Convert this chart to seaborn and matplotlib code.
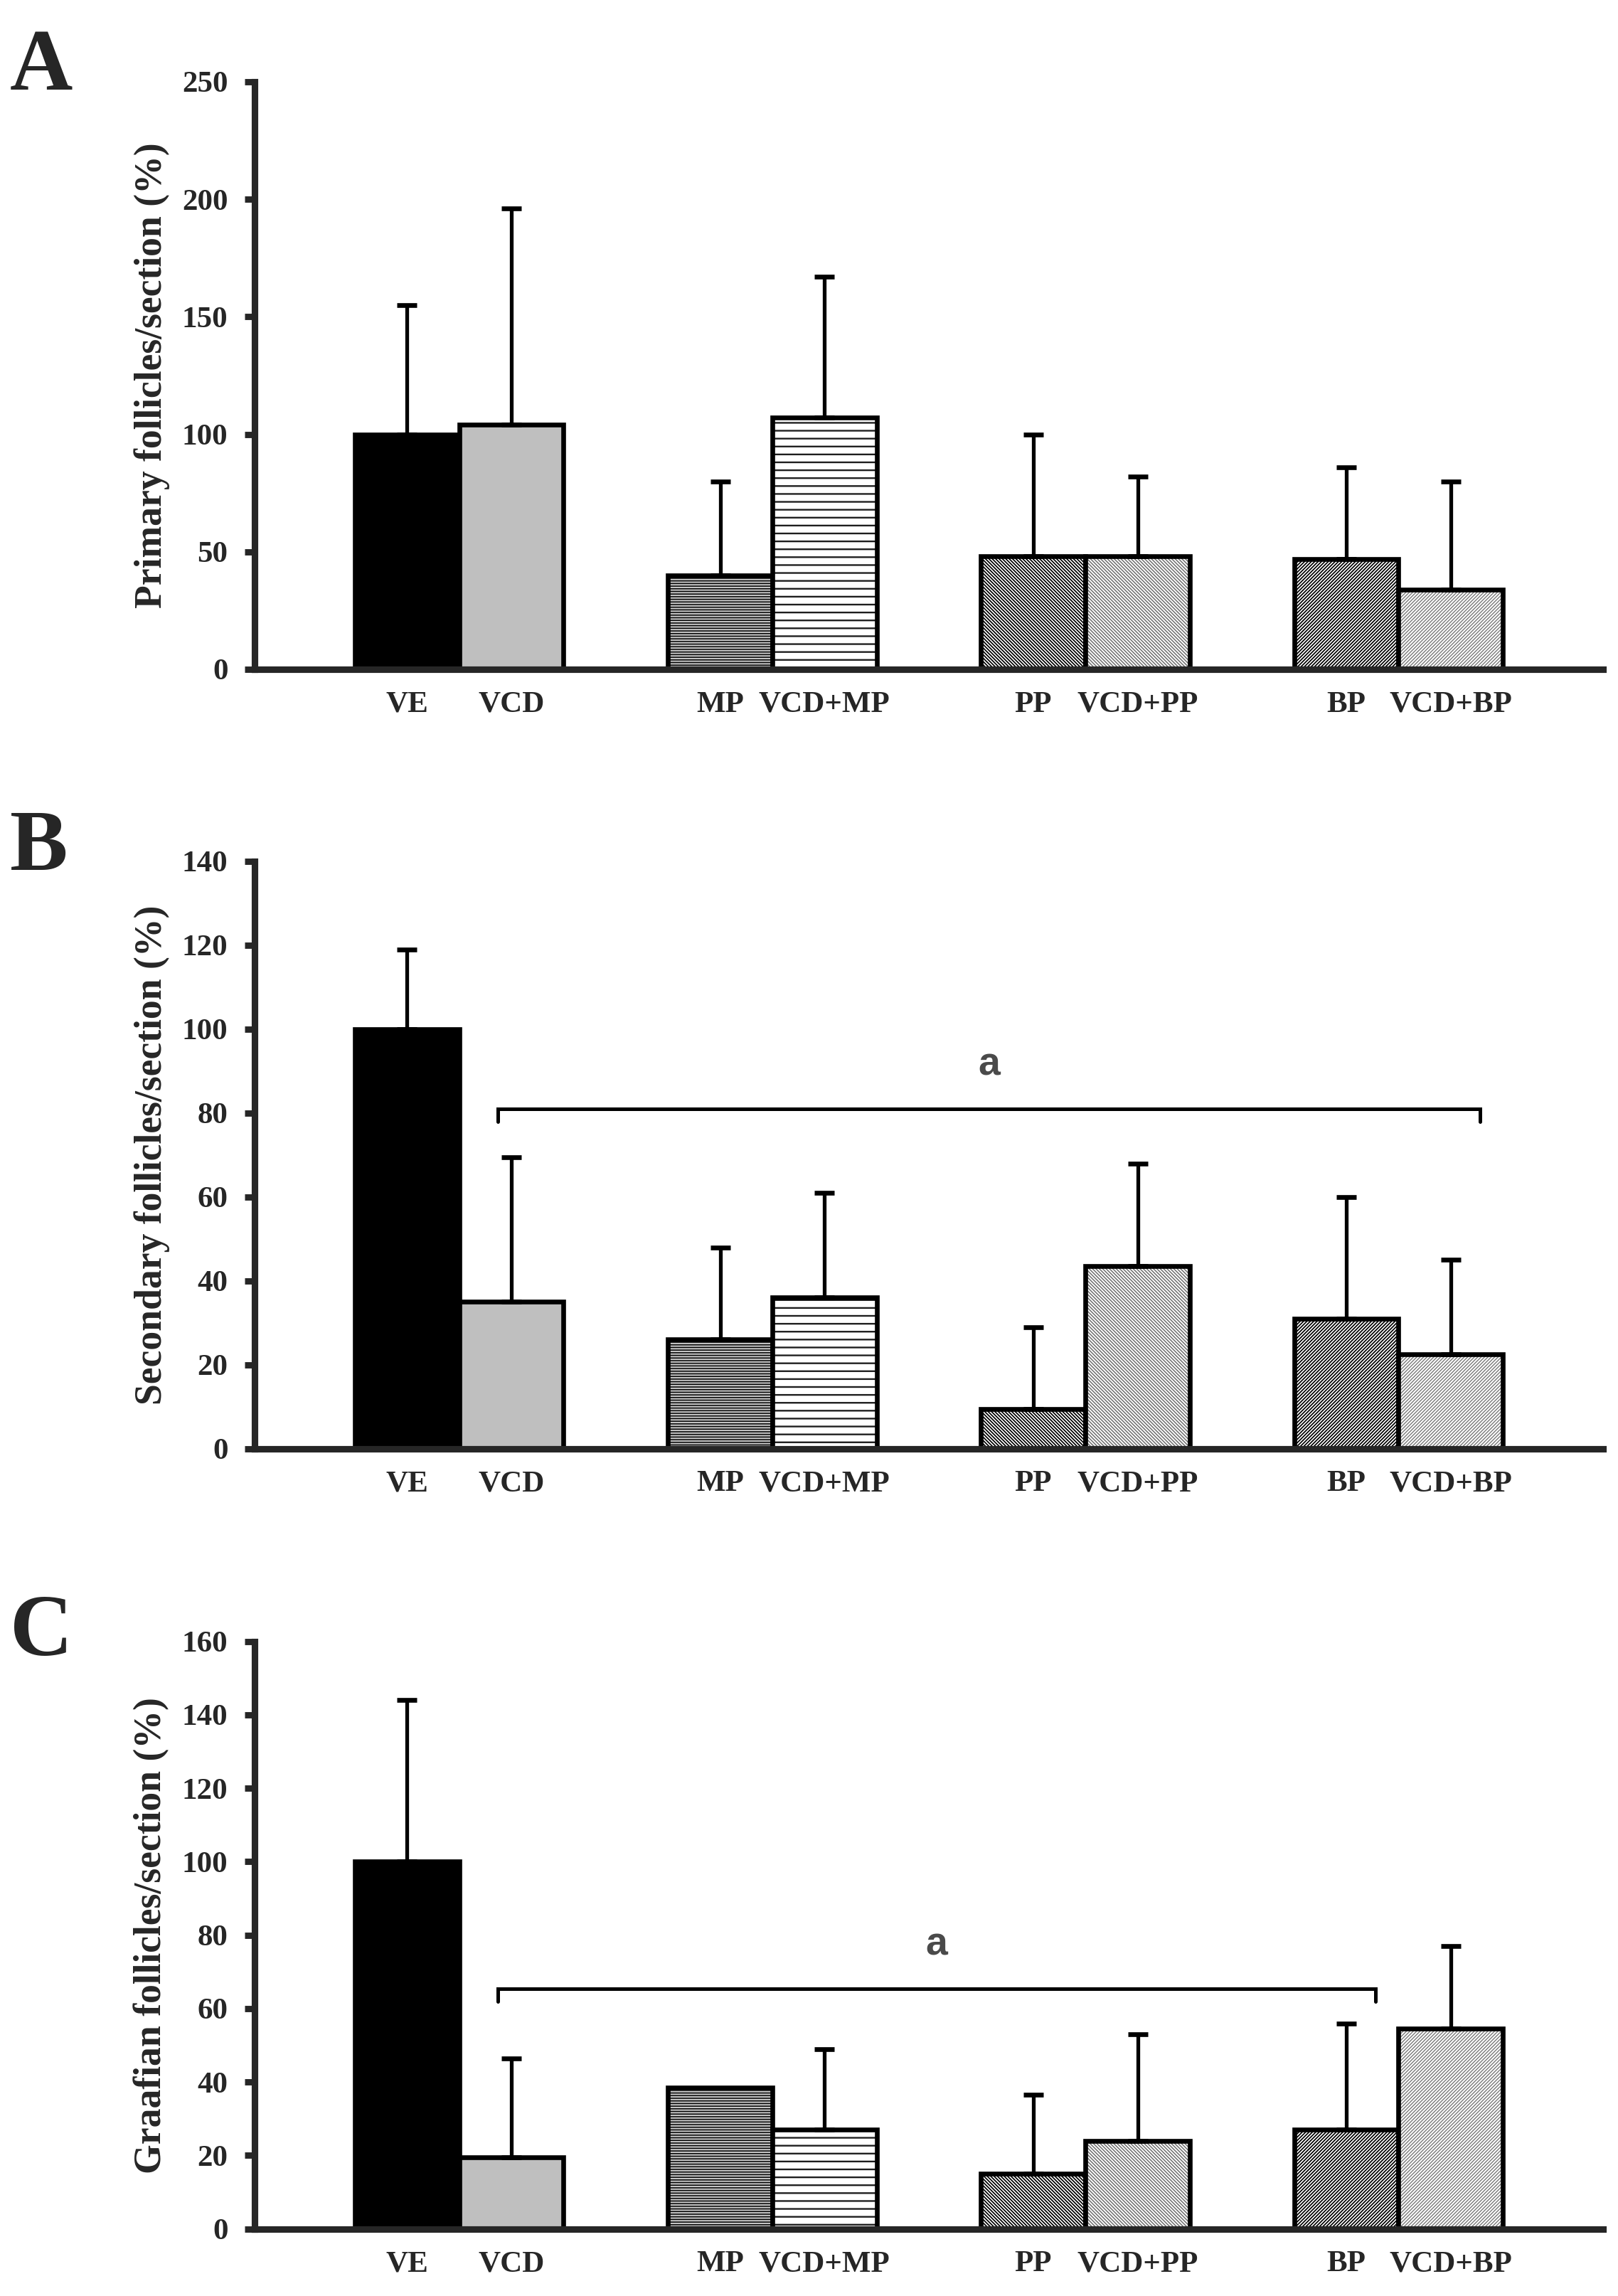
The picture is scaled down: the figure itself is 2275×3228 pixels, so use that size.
import numpy as np
import matplotlib
matplotlib.use('Agg')
import matplotlib.pyplot as plt
import seaborn as sns
import pandas as pd
from matplotlib.colors import to_rgba

sns.set_style('ticks')
plt.rcParams['font.family'] = ['Liberation Serif', 'DejaVu Serif']
plt.rcParams['font.weight'] = 'bold'
plt.rcParams['axes.labelweight'] = 'bold'

# data (% of vehicle control, mean + SD)
groups = ['VE', 'VCD', 'MP', 'VCD+MP', 'PP', 'VCD+PP', 'BP', 'VCD+BP']
order = ['VE', 'VCD', ' ', 'MP', 'VCD+MP', '  ', 'PP', 'VCD+PP', '   ', 'BP', 'VCD+BP']

primary_mean = [100, 104, 40, 107, 48, 48, 47, 34]
primary_sd = [55, 92, 40, 60, 52, 34, 39, 46]

secondary_mean = [100, 35, 26, 36, 9.5, 43.5, 31, 22.5]
secondary_sd = [19, 34.5, 22, 25, 19.5, 24.5, 29, 22.5]

graafian_mean = [100, 19.5, 38.5, 27, 15, 24, 27, 54.5]
graafian_sd = [44, 27, np.nan, 22, 21.5, 29, 29, 22.5]

ylabels = ['Primary follicles/section (%)',
           'Secondary follicles/section (%)',
           'Graafian follicles/section (%)']
ylims = [250, 140, 160]
ysteps = [50, 20, 20]
letters = ['A', 'B', 'C']
# bracket: (from group, to group, height)
brackets = [None, ('VCD', 'VCD+BP', 81), ('VCD', 'BP', 65.5)]

styles = {
    'VE': dict(face='black', hatch=None),
    'VCD': dict(face='#bfbfbf', hatch=None),
    'MP': dict(face='#c4c4c4', hatch='-' * 9, hc='black', hlw=0.55),
    'VCD+MP': dict(face='white', hatch='---', hc='#1e1e1e', hlw=0.85),
    'PP': dict(face='white', hatch='\\' * 14, hc='black', hlw=0.62),
    'VCD+PP': dict(face='white', hatch='\\' * 14, hc='#707070', hlw=0.55),
    'BP': dict(face='white', hatch='/' * 14, hc='black', hlw=0.62),
    'VCD+BP': dict(face='white', hatch='/' * 14, hc='#7a7a7a', hlw=0.5),
}

fig = plt.figure(figsize=[11.375, 16.14])

panels = [(0.7085, primary_mean, primary_sd),
          (0.3690, secondary_mean, secondary_sd),
          (0.0292, graafian_mean, graafian_sd)]
letter_y = [0.961, 0.621, 0.279]

for k, (bottom, mean, sd) in enumerate(panels):
    ax = fig.add_axes([0.1574, bottom, 0.8334, 0.2559])
    df = pd.DataFrame({'group': groups, 'value': mean, 'sd': sd})
    sns.barplot(data=df, x='group', y='value', order=order, width=1.0,
                color='white', edgecolor='black', linewidth=2.4,
                errorbar=None, ax=ax)

    centers = {}
    for p in ax.patches:
        cx = p.get_x() + p.get_width() / 2
        name = order[int(round(cx))]
        if name.strip() == '':
            continue
        centers[name] = cx
        st = styles[name]
        p.set_facecolor(st['face'])
        p.set_edgecolor('black')
        if st['hatch']:
            p.set_hatch(st['hatch'])
            if hasattr(p, 'set_hatchcolor'):
                p.set_hatchcolor(st['hc'])
            else:
                p._hatch_color = to_rgba(st['hc'])
            if hasattr(p, 'set_hatch_linewidth'):
                p.set_hatch_linewidth(st['hlw'])
            else:
                p._hatch_linewidth = st['hlw']

    ok = df['sd'].notna()
    xs = [centers[g] for g in df['group'][ok]]
    ax.errorbar(xs, df['value'][ok], yerr=[np.zeros(ok.sum()), df['sd'][ok]],
                fmt='none', ecolor='black', elinewidth=1.9, capsize=5,
                capthick=2.4, zorder=3)

    if brackets[k] is not None:
        g0, g1, yb = brackets[k]
        x0 = centers[g0] - 0.13
        x1 = centers[g1] + 0.28
        drop = 0.022 * ylims[k]
        ax.plot([x0, x0, x1, x1], [yb - drop, yb, yb, yb - drop],
                color='black', lw=1.8, solid_joinstyle='miter')
        ax.annotate('a', xy=((x0 + x1) / 2, yb), xytext=(0, 22),
                    textcoords='offset points', ha='center', va='center',
                    fontsize=20, fontweight='bold', color='#4a4a4a',
                    family=['Liberation Sans', 'DejaVu Sans'])

    ax.set_xlim(-1.46, 11.46)
    ax.set_ylim(0, ylims[k])
    ax.set_yticks(np.arange(0, ylims[k] + 1, ysteps[k]))
    ax.set_xlabel('')
    ax.set_ylabel(ylabels[k], fontsize=19.3)
    ax.yaxis.set_label_coords(-0.063, 0.5)
    ax.tick_params(axis='x', length=0, pad=11, labelsize=15.5)
    ax.tick_params(axis='y', length=5, width=3.2, pad=8.5, labelsize=15.5,
                   direction='out')
    sns.despine(ax=ax)
    ax.spines['left'].set_linewidth(3.3)
    ax.spines['bottom'].set_linewidth(3.3)

    fig.text(0.006, letter_y[k], letters[k], fontsize=44, fontweight='bold',
             va='baseline', ha='left')

fig.savefig('out.png', dpi=200)
